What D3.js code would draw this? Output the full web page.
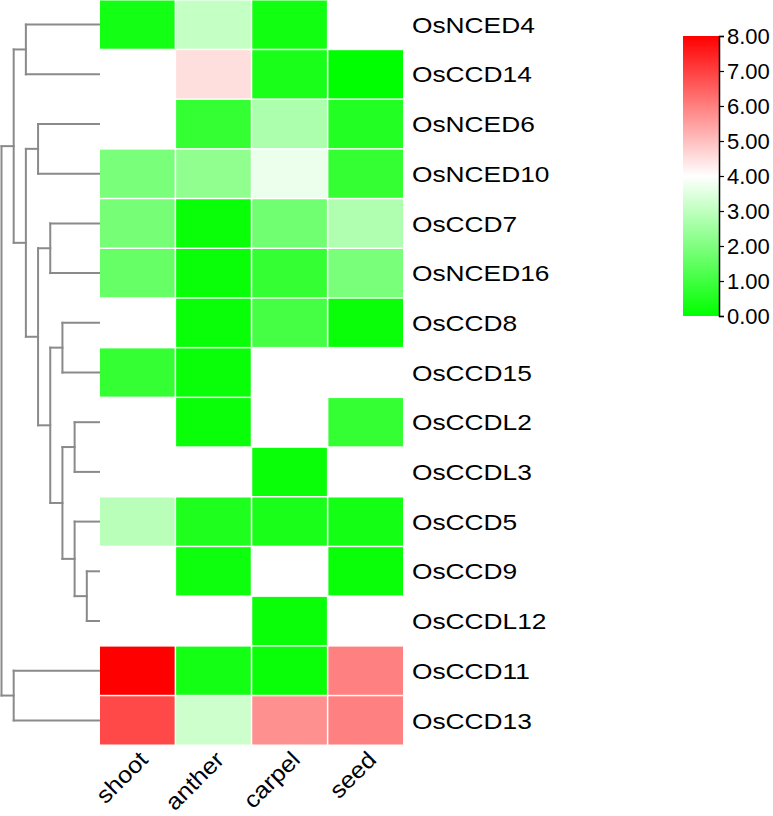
<!DOCTYPE html>
<html>
<head>
<meta charset="utf-8">
<script src="https://cdn.jsdelivr.net/npm/d3@7"></script>
<style>
  html, body { margin: 0; padding: 0; background: #fff; }
  svg { display: block; font-family: "Liberation Sans", Arial, sans-serif; }
</style>
</head>
<body>
<svg id="chart" width="773" height="816"></svg>
<script>
// ---- data ----
const genes = ["OsNCED4","OsCCD14","OsNCED6","OsNCED10","OsCCD7","OsNCED16","OsCCD8","OsCCD15",
               "OsCCDL2","OsCCDL3","OsCCD5","OsCCD9","OsCCDL12","OsCCD11","OsCCD13"];
const tissues = ["shoot","anther","carpel","seed"];
const shoot  = [0.3, null, null, 1.9, 1.85, 1.6, null, 0.8, null, null, 2.9, null, null, 8.0, 6.87];
const anther = [3.07, 4.52, 0.8, 2.26, 0.13, 0.13, 0.12, 0.12, 0.13, null, 0.47, 0.22, null, 0.3, 3.2];
const carpel = [0.27, 0.4, 2.7, 3.7, 1.75, 0.8, 1.07, null, null, 0.13, 0.4, null, 0.13, 0.13, 5.74];
const seed   = [null, 0.0, 0.53, 0.8, 2.76, 1.9, 0.13, null, 0.8, null, 0.3, 0.13, null, 6.0, 6.0];
const legendTicks = [0, 1, 2, 3, 4, 5, 6, 7, 8];
// row dendrogram (nested leaf order)
const dendrogram = [
  [["OsNCED4","OsCCD14"],
   [["OsNCED6","OsNCED10"],
    [["OsCCD7","OsNCED16"],
     [["OsCCD8","OsCCD15"],
      [["OsCCDL2","OsCCDL3"],
       ["OsCCD5",["OsCCD9","OsCCDL12"]]]]]]],
  ["OsCCD11","OsCCD13"]
];

const seriesByTissue = { shoot, anther, carpel, seed };

// ---- layout ----
const svg = d3.select("#chart");
const x = d3.scaleBand().domain(tissues).range([100, 403]).paddingInner(0.02);
const y = d3.scaleBand().domain(genes).range([0.5, 744.5]).paddingInner(0.03);
const color = d3.scaleLinear().domain([0, 4, 8]).range(["#00ff00", "#ffffff", "#ff0000"]);

// ---- heatmap cells ----
const cells = [];
tissues.forEach(t => {
  seriesByTissue[t].forEach((v, i) => {
    if (v !== null) cells.push({ tissue: t, gene: genes[i], value: v });
  });
});
svg.append("g").selectAll("rect").data(cells).join("rect")
  .attr("x", d => x(d.tissue))
  .attr("y", d => y(d.gene))
  .attr("width", x.bandwidth())
  .attr("height", y.bandwidth())
  .attr("fill", d => color(d.value));

// ---- row labels ----
svg.append("g").selectAll("text").data(genes).join("text")
  .attr("transform", d => `translate(412,${y(d) + y.bandwidth() / 2}) scale(1.17,1)`)
  .attr("dy", "0.36em")
  .attr("font-size", 22.5)
  .attr("fill", "#000")
  .text(d => d);

// ---- column labels ----
svg.append("g").selectAll("text").data(tissues).join("text")
  .attr("transform", d => `translate(${x(d) + x.bandwidth() / 2 + 12},${761}) rotate(-45) scale(1.1,1)`)
  .attr("text-anchor", "end")
  .attr("font-size", 23)
  .attr("fill", "#000")
  .text(d => d);

// ---- dendrogram ----
const root = d3.hierarchy(dendrogram, d => Array.isArray(d) ? d : null);
const maxDepth = 8;
const dx = d3.scaleLinear().domain([0, maxDepth]).range([1.5, 99]);
root.eachAfter(n => {
  if (!n.children) {
    n.px = dx(maxDepth);
    n.py = y(n.data) + y.bandwidth() / 2;
  } else {
    n.px = dx(n.depth);
    n.py = (n.children[0].py + n.children[n.children.length - 1].py) / 2;
  }
});
const segs = [];
root.each(n => {
  if (n.children) {
    const c0 = n.children[0], c1 = n.children[n.children.length - 1];
    segs.push([[n.px, c0.py], [n.px, c1.py]]);
    n.children.forEach(c => segs.push([[n.px, c.py], [c.px, c.py]]));
  }
});
svg.append("g").selectAll("path").data(segs).join("path")
  .attr("d", d => d3.line()(d))
  .attr("fill", "none")
  .attr("stroke", "#8a8a8a")
  .attr("stroke-width", 2)
  .attr("stroke-linecap", "square");

// ---- color legend ----
const defs = svg.append("defs");
const grad = defs.append("linearGradient").attr("id", "lg")
  .attr("x1", "0").attr("y1", "1").attr("x2", "0").attr("y2", "0");
d3.range(0, 8.01, 0.5).forEach(v => {
  grad.append("stop").attr("offset", v / 8).attr("stop-color", color(v));
});
const ly = d3.scaleLinear().domain([0, 8]).range([316, 36]);
svg.append("rect")
  .attr("x", 683).attr("y", 36).attr("width", 36).attr("height", 280)
  .attr("fill", "url(#lg)");
const axis = svg.append("g").attr("transform", "translate(719,0)")
  .call(d3.axisRight(ly).tickValues(legendTicks).tickFormat(d3.format(".2f")).tickSize(5).tickPadding(3));
axis.select(".domain").attr("stroke", "#000").attr("stroke-width", 1.5);
axis.selectAll(".tick line").attr("stroke", "#000").attr("stroke-width", 1.2);
axis.selectAll("text").attr("font-size", 22).attr("fill", "#000")
  .attr("font-family", "\"Liberation Sans\", Arial, sans-serif");
</script>
</body>
</html>
